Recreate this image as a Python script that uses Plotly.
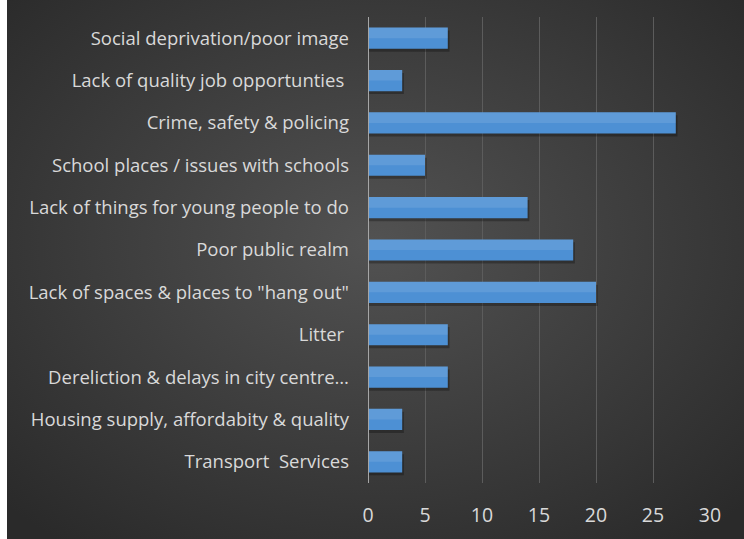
import base64
import plotly.graph_objects as go

categories = [
    "Social deprivation/poor image",
    "Lack of quality job opportunties\u00a0",
    "Crime, safety & policing",
    "School places / issues with schools",
    "Lack of things for young people to do",
    "Poor public realm",
    "Lack of spaces & places to \"hang out\"",
    "Litter\u00a0",
    "Dereliction & delays in city centre…",
    "Housing supply, affordabity & quality",
    "Transport\u00a0\u00a0Services",
]
values = [7, 3, 27, 5, 14, 18, 20, 7, 7, 3, 3]
x_ticks = [0, 5, 10, 15, 20, 25, 30]

W, H = 744, 539
L, R, T, B = 368, 34, 17, 56
pw, ph = W - L - R, H - T - B

svg = (
    '<svg xmlns="http://www.w3.org/2000/svg" width="737" height="539">'
    '<defs><radialGradient id="g" cx="50%" cy="45%" r="70%">'
    '<stop offset="0%" stop-color="#525252"/>'
    '<stop offset="100%" stop-color="#2a2a2a"/>'
    '</radialGradient></defs>'
    '<rect width="737" height="539" fill="url(#g)"/></svg>'
)
src = "data:image/svg+xml;base64," + base64.b64encode(svg.encode()).decode()

fig = go.Figure()
# soft drop shadow under each bar
fig.add_trace(
    go.Bar(
        x=[v + 0.15 for v in values],
        y=categories,
        orientation="h",
        marker=dict(color="rgba(0,0,0,0.28)", line=dict(width=0)),
        width=0.5,
        offset=-0.25 + 0.07,
        hoverinfo="skip",
    )
)
# main bars
fig.add_trace(
    go.Bar(
        x=values,
        y=categories,
        orientation="h",
        marker=dict(color="#4d90d4", line=dict(width=0)),
        width=0.5,
        offset=-0.25,
        hoverinfo="x+y",
    )
)
# lighter upper half to suggest the gradient fill
fig.add_trace(
    go.Bar(
        x=values,
        y=categories,
        orientation="h",
        marker=dict(color="rgba(255,255,255,0.10)", line=dict(width=0)),
        width=0.25,
        offset=-0.25,
        hoverinfo="skip",
    )
)

fig.update_layout(
    width=W,
    height=H,
    margin=dict(l=L, r=R, t=T, b=B),
    paper_bgcolor="white",
    plot_bgcolor="rgba(0,0,0,0)",
    showlegend=False,
    barmode="overlay",
    images=[
        dict(
            source=src,
            xref="paper",
            yref="paper",
            x=(7 - L) / pw,
            y=1 + T / ph,
            sizex=(W - 7) / pw,
            sizey=H / ph,
            xanchor="left",
            yanchor="top",
            sizing="stretch",
            layer="below",
        )
    ],
    xaxis=dict(
        range=[0, 30],
        tickvals=x_ticks,
        showgrid=True,
        gridcolor="#5c5c5c",
        gridwidth=1,
        zeroline=False,
        showline=False,
        tickfont=dict(family="Open Sans", size=19.5, color="#d9d9d9"),
        ticklabelstandoff=18,
        fixedrange=True,
    ),
    yaxis=dict(
        autorange="reversed",
        showgrid=False,
        showline=False,
        zeroline=False,
        tickfont=dict(family="Open Sans", size=18.5, color="#d9d9d9"),
        ticklabelstandoff=18,
        fixedrange=True,
    ),
    shapes=[
        dict(
            type="line",
            xref="x",
            yref="paper",
            x0=0,
            x1=0,
            y0=0,
            y1=1,
            line=dict(color="#a6a6a6", width=2),
            layer="above",
        )
    ],
)

fig.write_html(
    "out.html",
    config={"displayModeBar": False},
    post_script="document.body.style.margin='0';document.body.style.overflow='hidden';",
)
